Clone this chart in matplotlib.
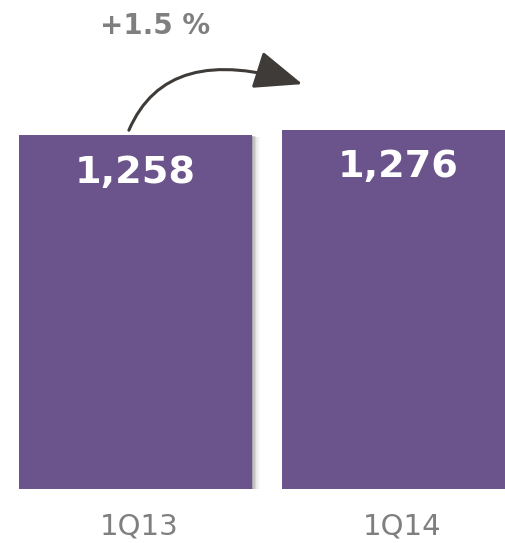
import matplotlib
matplotlib.use('Agg')
import matplotlib.pyplot as plt
from matplotlib.patches import FancyArrowPatch

# Данные
quarters = ['1Q13', '1Q14']
values = [1258, 1276]
value_labels = ['1,258', '1,276']
growth_label = '+1.5 %'

BAR_COLOR = '#6b538b'
GRAY_TEXT = '#7f7f7f'
ARROW_COLOR = '#3e3b38'


def create_axes():
    fig = plt.figure(figsize=(5.06, 5.43), dpi=100)
    ax = fig.add_axes([0, 0.0994, 1, 0.9006])
    ax.set_xlim(-0.515, 1.409)
    ax.set_ylim(0, 1738)
    ax.axis('off')
    return fig, ax


def plot_bars(ax):
    x = list(range(len(values)))
    # мягкая тень справа-снизу
    for dx, dy, a in [(0.005, -2, 0.14), (0.011, -4, 0.10),
                      (0.017, -5, 0.07), (0.024, -6, 0.05), (0.031, -7, 0.03)]:
        ax.bar([xi + dx for xi in x], values, width=0.886, bottom=dy,
               color='#000000', alpha=a, zorder=1, linewidth=0)
    ax.bar(x, values, width=0.886, color=BAR_COLOR, zorder=2, linewidth=0)

    for xi, v, lab in zip(x, values, value_labels):
        ax.annotate(lab, xy=(xi, v), xytext=(0, -27), textcoords='offset points',
                    ha='center', va='center', color='white',
                    fontsize=27.5, fontweight='bold', zorder=3)
        ax.annotate(quarters[xi], xy=(xi, 0), xycoords=('data', 'axes fraction'),
                    xytext=(3, -27), textcoords='offset points',
                    ha='center', va='center', color=GRAY_TEXT, fontsize=21)


def plot_growth(ax):
    arrow = FancyArrowPatch((-0.029, values[0] + 8), (0.645, 1436),
                            connectionstyle='angle3,angleA=68,angleB=-18',
                            arrowstyle='-|>,head_length=1.25,head_width=0.5',
                            mutation_scale=24, lw=2.2, color=ARROW_COLOR,
                            zorder=4)
    ax.add_patch(arrow)
    ax.text(0.074, 1645, growth_label, ha='center', va='center',
            color=GRAY_TEXT, fontsize=20, fontweight='bold')


fig, ax = create_axes()
plot_bars(ax)
plot_growth(ax)
fig.savefig('out.png', dpi=100)
